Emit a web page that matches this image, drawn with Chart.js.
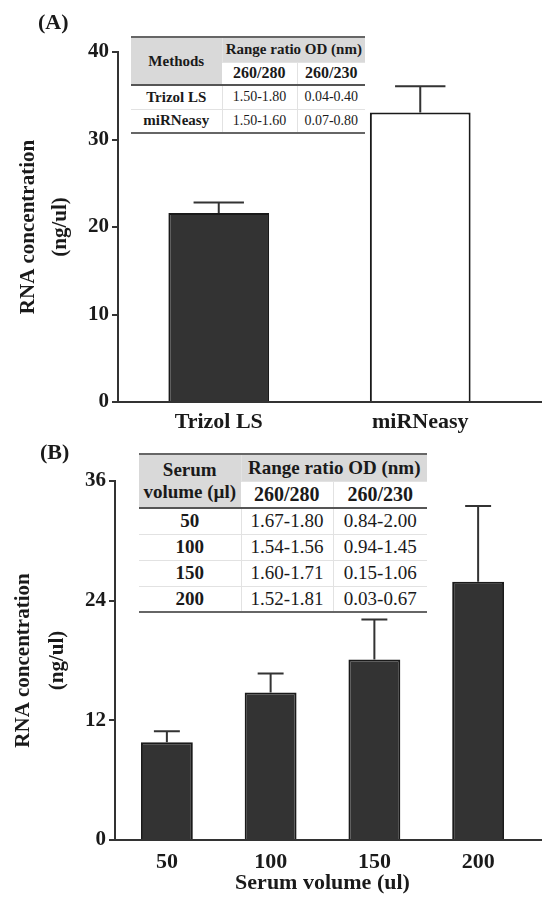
<!DOCTYPE html>
<html>
<head>
<meta charset="utf-8">
<script src="https://cdn.jsdelivr.net/npm/chart.js@4"></script>
<style>
  body { margin: 0; background: #fff; }
  #wrap { position: relative; width: 542px; height: 897px; overflow: hidden; font-family: "Liberation Serif", serif; color: #1a1a1a; }
  canvas { position: absolute; left: 0; }
  .panel { position: absolute; font-weight: bold; font-size: 22px; }
  table { position: absolute; border-collapse: collapse; background: #fff; table-layout: fixed; }
  td { text-align: center; padding: 0; border-left: 1px solid #e2e2e2; border-top: 1px solid #e2e2e2; white-space: nowrap; }
  td:first-child { border-left: none; }
  .hd { background: #d9d9d9; font-weight: bold; }
  .sub { font-weight: bold; }
  .lab { font-weight: bold; }
  tr.top td { border-top: 2px solid #666; }
  tr.split td { border-top: 2px solid #555; }
  tr.last td { border-bottom: 2px solid #666; }
  #tabA { left: 131px; top: 36px; width: 234px; font-size: 14px; }
  #tabA .hd { font-size: 15px; }
  #tabA .sub { font-size: 16px; }
  #tabA .lab { font-size: 15px; }
  #tabB { left: 139px; top: 453px; width: 288px; font-size: 19px; }
  #tabB .hd { font-size: 19px; }
  #tabB .sub { font-size: 20px; }
</style>
</head>
<body>
<div id="wrap">
  <canvas id="chartA" width="542" height="440" style="top:0"></canvas>
  <canvas id="chartB" width="542" height="467" style="top:430px"></canvas>
  <div class="panel" style="left:38px; top:9px">(A)</div>
  <div class="panel" style="left:40px; top:439px">(B)</div>
  <table id="tabA"></table>
  <table id="tabB"></table>
</div>
<script>
// panel A: extraction method
const methods = ['Trizol LS', 'miRNeasy'];
const concA = [21.6, 33.1];
const errA = [1.2, 3.0];
const ticksA = [0, 10, 20, 30, 40];

// panel B: serum volume
const volumes = ['50', '100', '150', '200'];
const concB = [9.8, 14.8, 18.1, 25.9];
const errB = [1.1, 1.9, 4.0, 7.6];
const ticksB = [0, 12, 24, 36];

// inset tables
const ratioA260_280 = ['1.50-1.80', '1.50-1.60'];
const ratioA260_230 = ['0.04-0.40', '0.07-0.80'];
const ratioB260_280 = ['1.67-1.80', '1.54-1.56', '1.60-1.71', '1.52-1.81'];
const ratioB260_230 = ['0.84-2.00', '0.94-1.45', '0.15-1.06', '0.03-0.67'];

function buildTable(id, firstHead, rowLabels, c1, c2, widths, heights) {
    const t = document.getElementById(id);
    let html = '<colgroup>' + widths.map(w => '<col style="width:' + w + 'px">').join('') + '</colgroup>';
    html += '<tr class="top" style="height:' + heights[0] + 'px"><td class="hd" rowspan="2">' + firstHead + '</td>' +
        '<td class="hd" colspan="2">Range ratio OD (nm)</td></tr>';
    html += '<tr style="height:' + heights[1] + 'px"><td class="sub">260/280</td><td class="sub">260/230</td></tr>';
    rowLabels.forEach((r, i) => {
        let cls = i === 0 ? 'split' : '';
        if (i === rowLabels.length - 1) cls += ' last';
        html += '<tr class="' + cls + '" style="height:' + heights[2] + 'px"><td class="lab">' + r + '</td><td>' + c1[i] + '</td><td>' + c2[i] + '</td></tr>';
    });
    t.innerHTML = html;
}
buildTable('tabA', 'Methods', methods, ratioA260_280, ratioA260_230, [91, 75, 68], [25, 23, 24]);
buildTable('tabB', 'Serum<br>volume (µl)', volumes, ratioB260_280, ratioB260_230, [102, 92, 94], [27, 27, 26]);

const FONT = 'Liberation Serif';
const INK = '#1a1a1a';
const AXIS = '#333';

// upper error bars + axis line running to the edge
const errorBars = {
    id: 'errorBars',
    afterDatasetsDraw(chart, args, opts) {
        const ctx = chart.ctx;
        const y = chart.scales.y;
        const meta = chart.getDatasetMeta(0);
        ctx.save();
        ctx.strokeStyle = AXIS;
        ctx.lineWidth = 2;
        meta.data.forEach((bar, i) => {
            const v = chart.data.datasets[0].data[i];
            const top = y.getPixelForValue(v + opts.errors[i]);
            const half = bar.width / 4;
            ctx.beginPath();
            ctx.moveTo(bar.x, bar.y);
            ctx.lineTo(bar.x, top);
            ctx.moveTo(bar.x - half, top);
            ctx.lineTo(bar.x + half, top);
            ctx.stroke();
        });
        const x = chart.scales.x;
        ctx.beginPath();
        ctx.moveTo(x.right - 2, Math.round(x.top));
        ctx.lineTo(chart.width, Math.round(x.top));
        ctx.stroke();
        ctx.restore();
    }
};

function makeChart(id, labels, values, errors, fills, yMax, step, cfg) {
    return new Chart(document.getElementById(id), {
        type: 'bar',
        data: {
            labels: labels,
            datasets: [{
                data: values,
                backgroundColor: fills,
                borderColor: '#1a1a1a',
                borderWidth: 2,
                barPercentage: 0.5,
                categoryPercentage: 1
            }]
        },
        options: {
            responsive: false,
            animation: false,
            layout: { padding: { top: cfg.top, right: cfg.right, left: 0, bottom: 0 } },
            plugins: {
                legend: { display: false },
                tooltip: { enabled: false },
                errorBars: { errors: errors }
            },
            scales: {
                x: {
                    offset: true,
                    grid: { display: false, drawTicks: false },
                    border: { color: AXIS, width: 2 },
                    ticks: { color: INK, padding: cfg.xPad, font: { family: FONT, size: 22, weight: 'bold' } },
                    title: cfg.xTitle ? {
                        display: true, text: cfg.xTitle, color: INK,
                        font: { family: FONT, size: 22, weight: 'bold' }, padding: { top: 0, bottom: 0 }
                    } : { display: false },
                    afterFit: s => { s.height = cfg.xHeight; }
                },
                y: {
                    min: 0,
                    max: yMax,
                    ticks: { stepSize: step, color: INK, padding: 3, font: { family: FONT, size: 21, weight: 'bold' } },
                    grid: { drawOnChartArea: false, drawTicks: true, tickLength: 6, color: AXIS, lineWidth: 2 },
                    border: { color: AXIS, width: 2 },
                    title: {
                        display: true, text: ['RNA concentration', '(ng/ul)'], color: INK,
                        font: { family: FONT, size: 21, weight: 'bold', lineHeight: cfg.titleLH },
                        padding: { top: cfg.titlePad, bottom: 0 }
                    },
                    afterFit: s => { s.width = cfg.yWidth; }
                }
            }
        },
        plugins: [errorBars]
    });
}

makeChart('chartA', methods, concA, errA, ['#333333', '#ffffff'], ticksA[ticksA.length - 1], 10,
    { top: 52, right: 21, xPad: 7, xHeight: 38, yWidth: 118, titleLH: 1.5, titlePad: 13 });
makeChart('chartB', volumes, concB, errB, '#333333', ticksB[ticksB.length - 1], 12,
    { top: 51, right: 12, xPad: 9, xHeight: 57, yWidth: 115, titleLH: 1.65, titlePad: 6, xTitle: 'Serum volume (ul)' });
</script>
</body>
</html>
